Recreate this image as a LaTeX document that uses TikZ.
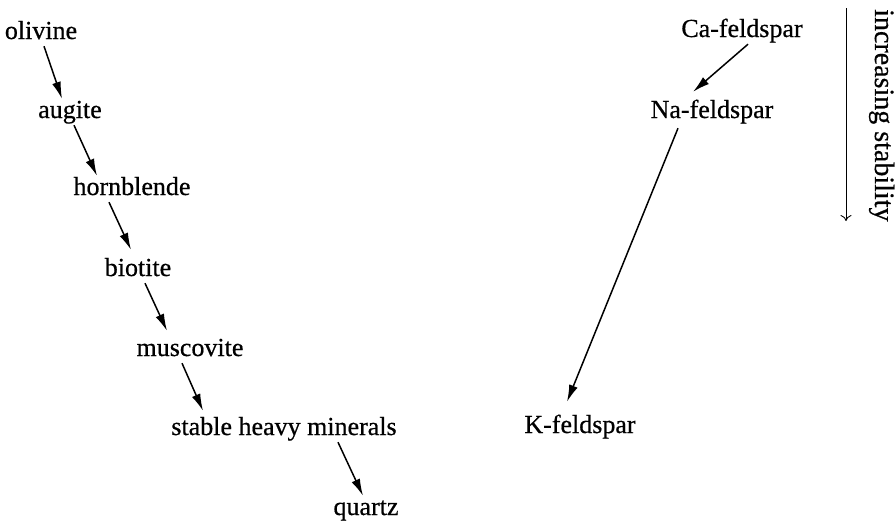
\documentclass[tikz,border=0pt]{standalone}
\usepackage{fontspec}
\setmainfont{Liberation Serif}[FakeBold=0.6]
\usetikzlibrary{arrows.meta}
\begin{document}
\begin{tikzpicture}[x=1pt,y=-1pt,
  mineral/.style={anchor=base,inner sep=1pt,text height=18pt,text depth=6pt,
    font=\fontsize{26}{30}\selectfont},
  arr/.style={line width=1.5pt,-{Latex[length=17pt,width=9pt]}},
  stab/.style={line width=0.9pt,-{To[length=6pt,width=11pt]}}]
\useasboundingbox (0,0) rectangle (896,520);
% left series
\node[mineral] (olivine) at (41,39) {olivine};
\node[mineral] (augite) at (70,118) {augite};
\node[mineral] (hornblende) at (132,195) {hornblende};
\node[mineral] (biotite) at (138,276) {biotite};
\node[mineral] (muscovite) at (190,356) {muscovite};
\node[mineral] (shm) at (284,435) {stable heavy minerals};
\node[mineral] (quartz) at (366,515) {quartz};
% right series
\node[mineral] (ca) at (742,37) {Ca-feldspar};
\node[mineral] (na) at (712,118) {Na-feldspar};
\node[mineral] (k) at (580,433) {K-feldspar};
% arrows
\draw[arr] ([xshift=3pt]olivine.south) -- ([xshift=-8pt]augite.north);
\draw[arr] ([xshift=4pt]augite.south) -- ([xshift=-35pt]hornblende.north);
\draw[arr] ([xshift=-23pt]hornblende.south) -- ([xshift=-7pt,yshift=7pt]biotite.north);
\draw[arr] ([xshift=7pt]biotite.south) -- ([xshift=-23pt,yshift=6pt]muscovite.north);
\draw[arr] ([xshift=-8pt]muscovite.south) -- ([xshift=-81pt,yshift=5pt]shm.north);
\draw[arr] ([xshift=54pt]shm.south) -- ([xshift=-3pt]quartz.north);
\draw[arr] ([xshift=6pt]ca.south) -- ([xshift=-19pt,yshift=7pt]na.north);
\draw[arr] ([xshift=-34pt,yshift=-3pt]na.south) -- ([xshift=-13pt,yshift=12pt]k.north);
% stability indicator
\coordinate (s0) at (846,8);
\coordinate (s1) at (846,221);
\draw[stab] (s0) -- (s1);
\node[anchor=base west,rotate=-90,inner sep=0pt,font=\fontsize{28}{32}\selectfont] (stability) at (875,9) {increasing stability};
\end{tikzpicture}
\end{document}
